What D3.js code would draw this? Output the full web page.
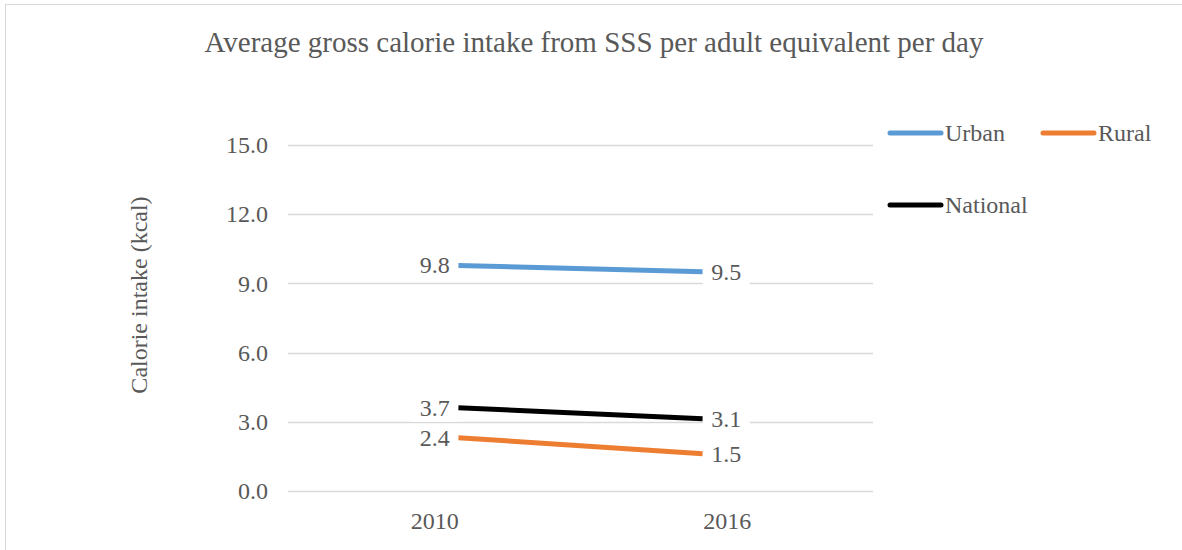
<!DOCTYPE html><head><meta charset="utf-8">
<title>calorie intake</title>
<style type="text/css">
* { box-sizing: border-box; }
body { margin: 0; background: white; }
svg text { font-family: "Liberation Serif", "Times New Roman", serif; fill: #595959; }
</style>
<script type="text/javascript" src="https://cdn.jsdelivr.net/npm/d3@7"></script>
</head><body>
<div class="chart"></div>
<script type="text/javascript">

var years = ["2010", "2016"];
var seriesNames = ["Urban", "Rural", "National"];
var urban = [9.78, 9.51];
var rural = [2.31, 1.62];
var national = [3.61, 3.13];
// the labels as printed on the chart
var urbanLabels = ["9.8", "9.5"];
var ruralLabels = ["2.4", "1.5"];
var nationalLabels = ["3.7", "3.1"];
var yTicks = [0, 3, 6, 9, 12, 15];

var colors = {Urban: "#5b9bd5", Rural: "#ed7d31", National: "#000000"};
var series = [
	{name: "Urban", vals: urban, labels: urbanLabels},
	{name: "Rural", vals: rural, labels: ruralLabels},
	{name: "National", vals: national, labels: nationalLabels}
];

var width = 1182, height = 550;
var margin = {left: 288, right: 309, top: 145, bottom: 59};
var fs = "24px";

var svg = d3.select("div.chart").append("svg")
	.attr("width", width).attr("height", height);

// chart frame
svg.append("rect")
	.attr("x", 5.5).attr("y", 4.5)
	.attr("width", width + 10).attr("height", height + 10)
	.attr("fill", "white").attr("stroke", "#d9d9d9");

svg.append("text")
	.attr("x", 594).attr("y", 52)
	.attr("text-anchor", "middle")
	.style("font-size", "29px")
	.text("Average gross calorie intake from SSS per adult equivalent per day");

var xscale = d3.scalePoint()
	.domain(years)
	.range([margin.left, width - margin.right])
	.padding(0.5);
var yscale = d3.scaleLinear()
	.domain([0, 15])
	.range([height - margin.bottom, margin.top]);

// gridlines
svg.append("g").attr("class", "grid")
	.selectAll("line").data(yTicks).join("line")
	.attr("x1", margin.left).attr("x2", width - margin.right)
	.attr("y1", d => Math.round(yscale(d)) + 0.5)
	.attr("y2", d => Math.round(yscale(d)) + 0.5)
	.attr("stroke", "#d9d9d9").attr("stroke-width", 1.5);

// y axis
var yaxis = svg.append("g")
	.attr("transform", "translate(" + margin.left + ",0)")
	.call(d3.axisLeft(yscale).tickValues(yTicks).tickFormat(d3.format(".1f")).tickSize(0).tickPadding(20));
yaxis.select(".domain").remove();
yaxis.selectAll("text").style("font-size", fs);

// x axis
var xaxis = svg.append("g")
	.attr("transform", "translate(0," + (height - margin.bottom) + ")")
	.call(d3.axisBottom(xscale).tickSize(0).tickPadding(21));
xaxis.select(".domain").remove();
xaxis.selectAll("text").style("font-size", fs);

svg.append("text")
	.attr("transform", "rotate(-90)")
	.attr("x", -295).attr("y", 147)
	.attr("text-anchor", "middle")
	.style("font-size", fs)
	.text("Calorie intake (kcal)");

// lines sit inset from the category centres, as in the original
var inset = 24;
function px(i) {
	return xscale(years[i]) + (i == 0 ? inset : -inset);
}

var line = d3.line()
	.x((d, i) => px(i))
	.y(d => yscale(d));

svg.selectAll("path.series").data(series).join("path")
	.attr("class", "series")
	.attr("d", d => line(d.vals))
	.attr("fill", "none")
	.attr("stroke", d => colors[d.name])
	.attr("stroke-width", 5)
	.attr("stroke-linecap", "butt");

// data labels with white boxes
series.forEach(function(s) {
	s.vals.forEach(function(v, i) {
		var g = svg.append("g");
		var bw = 47, bh = 26;
		var bx = i == 0 ? px(i) - bw : px(i);
		g.append("rect")
			.attr("x", bx).attr("y", yscale(v) - bh / 2 + 1)
			.attr("width", bw).attr("height", bh)
			.attr("fill", "white");
		g.append("text")
			.attr("x", bx + bw / 2).attr("y", yscale(v) + 8)
			.attr("text-anchor", "middle")
			.style("font-size", fs)
			.text(s.labels[i]);
	});
});

// legend
var legendPos = {Urban: [888, 133], Rural: [1041, 133], National: [888, 205]};
var leg = svg.selectAll("g.legend").data(seriesNames).join("g")
	.attr("class", "legend")
	.attr("transform", d => "translate(" + legendPos[d][0] + "," + legendPos[d][1] + ")");
leg.append("line")
	.attr("x1", 2).attr("x2", 53)
	.attr("stroke", d => colors[d])
	.attr("stroke-width", 5)
	.attr("stroke-linecap", "round");
leg.append("text")
	.attr("x", 57).attr("y", 8)
	.style("font-size", fs)
	.text(d => d);

</script>
</body></html>
